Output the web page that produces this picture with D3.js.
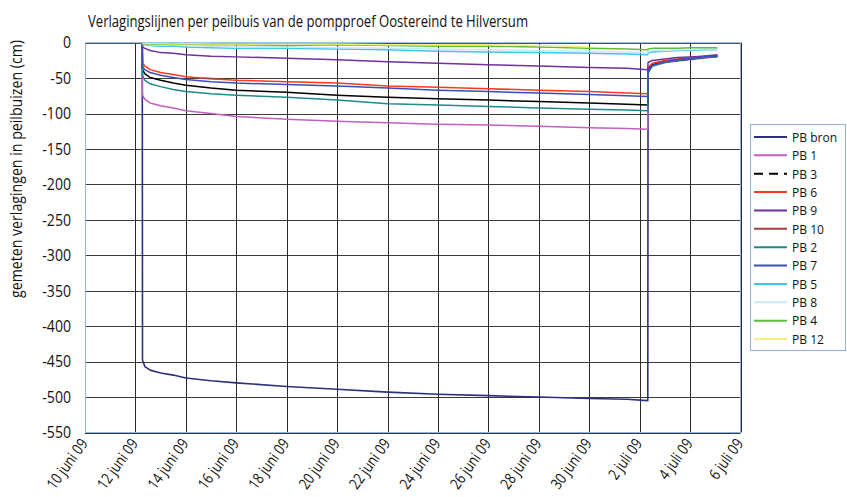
<!DOCTYPE html>
<html>
<head>
<meta charset="utf-8">
<script src="https://cdn.jsdelivr.net/npm/d3@7"></script>
<style>
  html, body { margin: 0; padding: 0; background: #fff; }
  svg { display: block; font-family: "Open Sans", "DejaVu Sans", sans-serif; }
</style>
</head>
<body>
<svg id="chart" width="847" height="497"></svg>
<script>
// Meetmomenten (gedeeld door alle peilbuizen)
const times = [
  "2009-06-12T06:30", "2009-06-12T06:45", "2009-06-12T09:00", "2009-06-12T14:00",
  "2009-06-13T00:00", "2009-06-13T12:00", "2009-06-14T00:00", "2009-06-15T00:00",
  "2009-06-16T00:00", "2009-06-18T00:00", "2009-06-20T00:00", "2009-06-22T00:00",
  "2009-06-24T00:00", "2009-06-26T00:00", "2009-06-28T00:00", "2009-06-30T00:00",
  "2009-07-01T12:00", "2009-07-02T07:45", "2009-07-02T08:00", "2009-07-02T12:00",
  "2009-07-03T00:00", "2009-07-03T12:00", "2009-07-04T00:00", "2009-07-04T12:00",
  "2009-07-05T02:00"
];

// Verlagingen in cm per peilbuis
const pbBron = [0, -448, -457, -462, -466, -469, -473, -477, -480, -485, -489, -493, -496, -498, -500, -502, -503, -505, -43, -32, -27, -25, -23, -21, -19];
const pb1    = [0, -74, -80, -85, -89, -92, -96, -100, -104, -108, -111, -113, -115, -116, -118, -120, -121, -122, -40, -33, -28, -26, -24, -22, -20];
const pb3    = [0, -38, -44, -49, -53, -57, -60, -64, -67, -70, -74, -77, -79, -81, -83, -85, -87, -88, -38, -31, -27, -25, -23, -21, -19];
const pb6    = [0, -29, -33, -38, -42, -45, -48, -51, -53, -55, -57, -61, -63, -65, -67, -69, -71, -72, -35, -29, -25, -23, -21, -19, -18];
const pb9    = [0, -6, -8, -11, -14, -15, -17, -19, -20, -22, -24, -27, -29, -31, -33, -35, -36, -38, -28, -25, -23, -21, -20, -19, -17];
const pb2    = [0, -46, -53, -58, -62, -66, -69, -72, -74, -77, -81, -86, -88, -90, -92, -94, -95, -96, -42, -33, -28, -25, -23, -21, -20];
const pb7    = [0, -34, -38, -42, -46, -49, -52, -55, -57, -59, -61, -64, -67, -69, -71, -73, -75, -76, -40, -32, -27, -24, -22, -20, -19];
const pb5    = [0, -2, -3, -4, -5, -5, -6, -7, -8, -8, -9, -10, -12, -13, -14, -15, -16, -17, -14, -13, -12, -11, -11, -10, -10];
const pb8    = [0, -1, -2, -3, -3, -4, -4, -5, -6, -6, -7, -8, -9, -10, -11, -12, -13, -14, -12, -11, -11, -10, -10, -9, -9];
const pb4    = [0, -1, -2, -2, -2, -3, -2, -3, -3, -4, -3, -4, -5, -5, -6, -8, -9, -10, -9, -8, -8, -8, -7, -7, -7];
const pb12   = [0, 0, -1, -1, -1, -2, -1, -2, -2, -2, -2, -3, -3, -3, -4, -6, null, null, null, null, null, null, null, null, null];

// PB 10 heeft slechts een korte meetreeks
const pb10Times  = ["2009-06-14T16:00", "2009-06-15T08:00"];
const pb10Values = [-50, -51];

// Series: naam en kleur
const seriesNames  = ["PB bron", "PB 1", "PB 3", "PB 6", "PB 9", "PB 10", "PB 2", "PB 7", "PB 5", "PB 8", "PB 4", "PB 12"];
const seriesColors = ["#2f2f80", "#c060c0", "#000000", "#ff3a1a", "#7030a0", "#a04040", "#208a8a", "#3a4ec0", "#40c4f0", "#c8eaf8", "#5cbf3c", "#f4f080"];
const seriesValues = [pbBron, pb1, pb3, pb6, pb9, null, pb2, pb7, pb5, pb8, pb4, pb12];

// As-labels
const xTickDates  = ["2009-06-10", "2009-06-12", "2009-06-14", "2009-06-16", "2009-06-18", "2009-06-20", "2009-06-22",
                     "2009-06-24", "2009-06-26", "2009-06-28", "2009-06-30", "2009-07-02", "2009-07-04", "2009-07-06"];
const xTickLabels = ["10 juni 09", "12 juni 09", "14 juni 09", "16 juni 09", "18 juni 09", "20 juni 09", "22 juni 09",
                     "24 juni 09", "26 juni 09", "28 juni 09", "30 juni 09", "2 juli 09", "4 juli 09", "6 juli 09"];
const yTicks = [0, -50, -100, -150, -200, -250, -300, -350, -400, -450, -500, -550];

const titleText  = "Verlagingslijnen per peilbuis van de pompproef Oostereind te Hilversum";
const yTitleText = "gemeten verlagingen in peilbuizen (cm)";

const parse = d3.timeParse("%Y-%m-%dT%H:%M");
const parseDay = d3.timeParse("%Y-%m-%d");

const fs = 16;

const svg = d3.select("#chart");
const plot = { left: 85, right: 740.5, top: 42.7, bottom: 432.5 };

const x = d3.scaleTime()
  .domain([parseDay("2009-06-10"), parseDay("2009-07-06")])
  .range([plot.left, plot.right]);
const y = d3.scaleLinear()
  .domain([-550, 0])
  .range([plot.bottom, plot.top]);

// Horizontale rasterlijnen
svg.append("g")
  .selectAll("line")
  .data(yTicks)
  .join("line")
  .attr("x1", plot.left).attr("x2", plot.right)
  .attr("y1", d => Math.round(y(d)) + 0.5).attr("y2", d => Math.round(y(d)) + 0.5)
  .attr("stroke", "#3a3a3a").attr("stroke-width", 1);

// Verticale rasterlijnen
const xTicks = xTickDates.map(parseDay);
svg.append("g")
  .selectAll("line")
  .data(xTicks)
  .join("line")
  .attr("x1", d => Math.round(x(d)) + 0.5).attr("x2", d => Math.round(x(d)) + 0.5)
  .attr("y1", plot.top).attr("y2", plot.bottom)
  .attr("stroke", "#2a2a2a").attr("stroke-width", 1);

// Meetreeksen
const tDates = times.map(parse);
const line = d3.line()
  .defined(d => d.v !== null)
  .x(d => x(d.t))
  .y(d => y(d.v));

const lineGroup = svg.append("g");
seriesNames.forEach((name, i) => {
  let pts;
  if (name === "PB 10") {
    pts = pb10Times.map((t, j) => ({ t: parse(t), v: pb10Values[j] }));
  } else {
    pts = tDates.map((t, j) => ({ t, v: seriesValues[i][j] }));
  }
  lineGroup.append("path")
    .datum(pts)
    .attr("d", line)
    .attr("fill", "none")
    .attr("stroke", seriesColors[i])
    .attr("stroke-width", name === "PB bron" ? 1.6 : 1.5)
    .attr("stroke-linejoin", "round");
});

// Kader van het grafiekvlak
svg.append("rect")
  .attr("x", plot.left + 0.5).attr("y", plot.top)
  .attr("width", plot.right - plot.left - 0.5).attr("height", plot.bottom - plot.top)
  .attr("fill", "none").attr("stroke", "#8db4e2").attr("stroke-width", 1);

// Y-as labels
svg.append("g")
  .selectAll("text")
  .data(yTicks)
  .join("text")
  .attr("transform", d => `translate(71,${y(d)}) scale(0.88,1)`)
  .attr("dy", "0.36em")
  .attr("text-anchor", "end")
  .attr("font-size", fs)
  .attr("fill", "#111")
  .text(d => d);

// X-as labels (schuin)
svg.append("g")
  .selectAll("text")
  .data(xTicks)
  .join("text")
  .attr("transform", d => `translate(${x(d) - 1},${plot.bottom + 8}) rotate(-54) scale(0.82,1)`)
  .attr("text-anchor", "end")
  .attr("dy", "0.35em")
  .attr("font-size", 15.5)
  .attr("fill", "#111")
  .text((d, i) => xTickLabels[i]);

// Titel
svg.append("text")
  .attr("x", 88).attr("y", 27)
  .attr("font-size", fs)
  .attr("textLength", 440)
  .attr("lengthAdjust", "spacingAndGlyphs")
  .attr("fill", "#111")
  .text(titleText);

// Y-as titel
svg.append("text")
  .attr("transform", `translate(22,169) rotate(-90)`)
  .attr("text-anchor", "middle")
  .attr("font-size", fs)
  .attr("textLength", 258)
  .attr("lengthAdjust", "spacingAndGlyphs")
  .attr("fill", "#111")
  .text(yTitleText);

// Legenda
const legend = svg.append("g");
legend.append("rect")
  .attr("x", 750.5).attr("y", 124.5)
  .attr("width", 95).attr("height", 226)
  .attr("fill", "#fff").attr("stroke", "#8db4e2").attr("stroke-width", 1);

const legendY = d3.scalePoint().domain(seriesNames).range([137, 339]);
seriesNames.forEach((name, i) => {
  const ly = legendY(name);
  legend.append("line")
    .attr("x1", 754).attr("x2", 787)
    .attr("y1", ly).attr("y2", ly)
    .attr("stroke", seriesColors[i])
    .attr("stroke-width", 2)
    .attr("stroke-dasharray", name === "PB 3" ? "9,6" : null);
  legend.append("text")
    .attr("transform", `translate(792,${ly}) scale(0.9,1)`)
    .attr("dy", "0.36em")
    .attr("font-size", 13.4)
    .attr("fill", "#111")
    .text(name);
});
</script>
</body>
</html>
